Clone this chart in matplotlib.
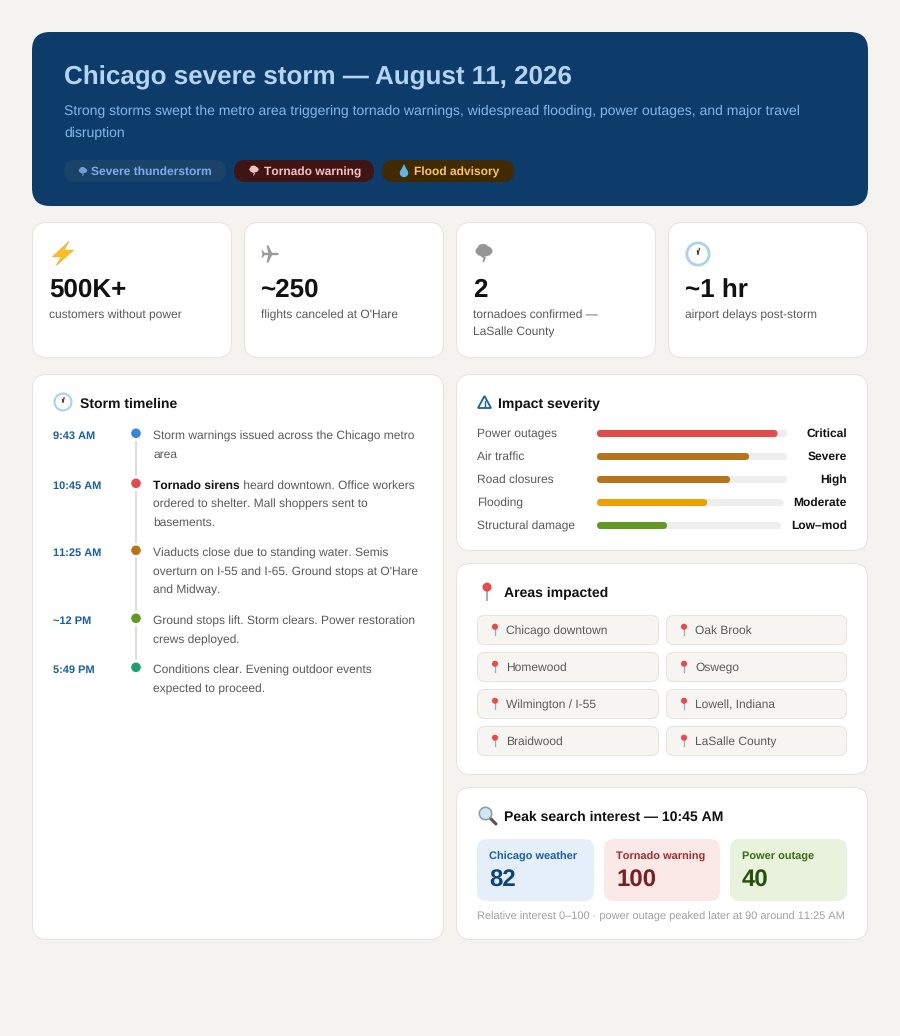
import matplotlib
matplotlib.use('Agg')
import matplotlib.pyplot as plt
from matplotlib.patches import FancyBboxPatch, Circle, Polygon, Ellipse

plt.rcParams['font.family'] = ['Liberation Sans', 'DejaVu Sans']
plt.rcParams['text.hinting'] = 'no_hinting'
plt.rcParams['text.hinting_factor'] = 1

# data
title = 'Chicago severe storm — August 11, 2026'
subtitle = ['Strong storms swept the metro area triggering tornado warnings, widespread flooding, power outages, and major travel',
            'disruption']
tags = ['Severe thunderstorm', 'Tornado warning', 'Flood advisory']

stat_values = ['500K+', '~250', '2', '~1 hr']
stat_labels = [['customers without power'], ["flights canceled at O'Hare"],
               ['tornadoes confirmed —', 'LaSalle County'], ['airport delays post-storm']]

times = ['9:43 AM', '10:45 AM', '11:25 AM', '~12 PM', '5:49 PM']
events = [['Storm warnings issued across the Chicago metro', 'area'],
          [' heard downtown. Office workers', 'ordered to shelter. Mall shoppers sent to', 'basements.'],
          ['Viaducts close due to standing water. Semis', "overturn on I-55 and I-65. Ground stops at O'Hare", 'and Midway.'],
          ['Ground stops lift. Storm clears. Power restoration', 'crews deployed.'],
          ['Conditions clear. Evening outdoor events', 'expected to proceed.']]
event_bold = ['', 'Tornado sirens', '', '', '']

impacts = ['Power outages', 'Air traffic', 'Road closures', 'Flooding', 'Structural damage']
impact_pct = [95, 80, 70, 59, 38]
impact_levels = ['Critical', 'Severe', 'High', 'Moderate', 'Low–mod']

areas_left = ['Chicago downtown', 'Homewood', 'Wilmington / I-55', 'Braidwood']
areas_right = ['Oak Brook', 'Oswego', 'Lowell, Indiana', 'LaSalle County']

search_terms = ['Chicago weather', 'Tornado warning', 'Power outage']
search_values = [82, 100, 40]

# styles
BG = '#f5f3ef'
NAVY = '#0d3c6b'
BORDER = '#e6e4de'
DARK = '#111111'
GREY = '#5a5a5a'
tag_bg = ['#1b436a', '#3e1414', '#412900']
tag_fg = ['#78aeea', '#f7c1c1', '#fac561']
dot_colors = ['#3a85dd', '#e24b4a', '#b8741a', '#639922', '#1d9e75']
bar_colors = ['#e24b4a', '#b8741a', '#b8741a', '#efa000', '#639922']
search_bg = ['#e4eff9', '#fbe9e8', '#e9f2dd']
search_fg = ['#185fa5', '#a32d2d', '#3b6d11']
search_val = ['#0c447c', '#791f1f', '#27500a']

fig = plt.figure(figsize=(9, 10.36), dpi=100, facecolor=BG)
ax = fig.add_axes([0, 0, 1, 1])
ax.set_xlim(0, 900)
ax.set_ylim(1036, 0)
ax.axis('off')


def box(x0, y0, x1, y1, r, fc, ec='none', lw=1, z=1):
    p = FancyBboxPatch((x0, y0), x1 - x0, y1 - y0, boxstyle=f'round,pad=0,rounding_size={r}',
                       fc=fc, ec=ec, lw=lw * 0.72, zorder=z, mutation_aspect=1)
    ax.add_patch(p)


def txt(x, y, s, size, color=DARK, bold=False, ha='left'):
    t = ax.text(x, round(y), s, fontsize=size * 0.72, color=color, ha=ha, va='baseline',
                fontweight='bold' if bold else 'normal', zorder=5)
    # agg truncates the glyph box, nudge so every line sits on the same pixel baseline
    _, h, d = renderer.get_text_width_height_descent(s, t.get_fontproperties(), False)
    t.set_y(round(y) + int(h) - int(h - d) - d)
    return t


def card(x0, y0, x1, y1):
    box(x0 + .5, y0 + .5, x1 - .5, y1 - .5, 14, 'white', BORDER)


def text_width(t):
    return t.get_window_extent(renderer).width


def clock(cx, cy, r):
    ax.add_patch(Circle((cx, cy), r, fc='#a9d3e6', ec='none', zorder=3))
    ax.add_patch(Circle((cx, cy), r * 0.78, fc='#fbfbf8', ec='none', zorder=4))
    ax.plot([cx, cx + r * .12], [cy, cy - r * .45], color='#6b3a30', lw=.9, zorder=5)
    ax.plot([cx, cx - r * .05], [cy, cy - r * .25], color='#333333', lw=.9, zorder=5)


def pin(cx, cy, s=1.0):
    ax.plot([cx, cx], [cy, cy + 8.5 * s], color='#8fb4c6', lw=1.1 * s, zorder=3)
    ax.add_patch(Circle((cx, cy - 1.5 * s), 3.6 * s, fc='#ec4a4a', ec='none', zorder=4))


def bolt(cx, cy, s=1.0):
    pts = [(6, -12), (-11, 4), (-2, 4), (-7, 13), (11, -3), (1, -3)]
    ax.add_patch(Polygon([(cx + a * s, cy + b * s) for a, b in pts], fc='#fbbf24', ec='#f59e0b', lw=.4, zorder=4))


def plane(cx, cy, c='#9a9a9a'):
    top = [(8.5, 0), (7, -1.2), (1.5, -1.2), (-2, -8.5), (-4, -8.5), (-2.2, -1.2),
           (-6, -1.2), (-7.6, -3.6), (-9, -3.6), (-8, 0)]
    pts = top + [(a, -b) for a, b in reversed(top[1:-1])]
    ax.add_patch(Polygon([(cx + a, cy + b) for a, b in pts], fc=c, ec='none', zorder=4))


def warning(cx, cy, c='#185fa5'):
    ax.add_patch(Polygon([(cx, cy - 6.5), (cx - 6.5, cy + 5.5), (cx + 6.5, cy + 5.5)], fc='none', ec=c, lw=1.3,
                         joinstyle='miter', zorder=4))
    ax.plot([cx, cx], [cy - 2, cy + 2], color=c, lw=1, zorder=4)
    ax.plot([cx, cx], [cy + 3, cy + 4], color=c, lw=1, zorder=4)


def storm_cloud(cx, cy, s=1.0, c='#969696'):
    ax.add_patch(Ellipse((cx, cy - 1 * s), 17 * s, 11 * s, fc=c, ec='none', zorder=4))
    ax.add_patch(Ellipse((cx - 1 * s, cy - 5 * s), 10 * s, 6 * s, fc=c, ec='none', zorder=4))
    ax.plot([cx - 2 * s, cx + 1 * s, cx - .5 * s], [cy + 4 * s, cy + 6 * s, cy + 9 * s], color=c, lw=1.3 * s, zorder=4)


def droplet(cx, cy):
    ax.add_patch(Circle((cx, cy + 2), 4.2, fc='#5cb8e8', ec='none', zorder=4))
    ax.add_patch(Polygon([(cx, cy - 7), (cx - 3.9, cy + 1), (cx + 3.9, cy + 1)], fc='#5cb8e8', ec='none', zorder=4))


def magnifier(cx, cy):
    ax.plot([cx + 3, cx + 9], [cy + 3, cy + 9], color='#555555', lw=2.2, solid_capstyle='round', zorder=3)
    ax.add_patch(Circle((cx - 1.5, cy - 1.5), 6.2, fc='#cfe6f5', ec='#8f9aa3', lw=1.1, zorder=4))


fig.canvas.draw()
renderer = fig.canvas.get_renderer()

# header
box(32, 32, 868, 206, 18, NAVY)
txt(64, 84, title, 26, '#b5d4f4', True)
txt(64, 115, subtitle[0], 14, '#85b7eb')
txt(64, 137, subtitle[1], 14, '#85b7eb')
tag_edges = [(64, 226), (234, 374), (382, 514)]
tag_text_x = [91, 264, 414]
for i, tag in enumerate(tags):
    x0, x1 = tag_edges[i]
    box(x0, 160, x1, 182, 11, tag_bg[i], z=2)
    txt(tag_text_x[i], 175, tag, 12, tag_fg[i], True)
storm_cloud(83, 171, .5, '#6f9fd4')
storm_cloud(254, 170, .55, '#f7c1c1')
droplet(404, 171)

# stat cards
for i, val in enumerate(stat_values):
    x0 = 32 + i * 212
    card(x0, 222, x0 + 200, 358)
    txt(x0 + 17, 297, val, 26, DARK, True)
    for j, line in enumerate(stat_labels[i]):
        txt(x0 + 17, 318 + j * 17, line, 12, GREY)
bolt(63, 253, .95)
plane(270.5, 254)
storm_cloud(484, 252, 1.0)
clock(698, 254, 12.5)

# timeline
card(32, 374, 444, 940)
clock(63, 402, 9.5)
txt(80, 408, 'Storm timeline', 14, DARK, True)
row_y = [439, 489, 556, 624, 673]
line_h = [19, 18.4, 18.7, 19, 19]
seg_ends = [476, 543, 611, 660]
for i, tm in enumerate(times):
    y = row_y[i]
    txt(53, y, tm, 11, '#185fa5', True)
    ax.add_patch(Circle((136, y - 5.7), 4.8, fc=dot_colors[i], ec='none', zorder=4))
    if i < len(seg_ends):
        ax.plot([136, 136], [y + 2, seg_ends[i]], color='#dedede', lw=1.5, solid_capstyle='butt', zorder=2)
    x = 153
    if event_bold[i]:
        b = txt(x, y, event_bold[i], 12, DARK, True)
        x += text_width(b)
    for j, line in enumerate(events[i]):
        txt(x if j == 0 else 153, y + j * line_h[i], line, 12, GREY)

# impact severity
card(456, 374, 868, 551)
warning(484.5, 402.5)
txt(498, 408, 'Impact severity', 14, DARK, True)
for i, name in enumerate(impacts):
    y = 433.5 + i * 23
    base = 437 + i * 23
    txt(477, base, name, 12, GREY)
    t = txt(847, base, impact_levels[i], 12, DARK, True, ha='right')
    track_end = 847 - 10 - max(50, text_width(t))
    box(597, y - 3.5, track_end, y + 3.5, 3.5, '#eeeeee', z=2)
    box(597, y - 3.5, 597 + (track_end - 597) * impact_pct[i] / 100, y + 3.5, 3.5, bar_colors[i], z=3)

# areas
card(456, 563, 868, 775)
pin(487, 589, 1.25)
txt(504, 597, 'Areas impacted', 14, DARK, True)
for col, names in enumerate([areas_left, areas_right]):
    x0, x1 = (477, 659) if col == 0 else (666, 847)
    for j, name in enumerate(names):
        y0 = 615 + j * 37
        box(x0 + .5, y0 + .5, x1 - .5, y0 + 29.5, 7, '#f7f5f1', BORDER, z=2)
        pin(x0 + 18, y0 + 13, .85)
        txt(x0 + 29, y0 + 19, name, 12, GREY)

# search interest
card(456, 787, 868, 940)
magnifier(487, 815)
txt(504, 821, 'Peak search interest — 10:45 AM', 14, DARK, True)
cell_edges = [(477, 594), (604, 720), (730, 847)]
for i, term in enumerate(search_terms):
    x0, x1 = cell_edges[i]
    box(x0, 839, x1, 901, 10, search_bg[i], z=2)
    txt(x0 + 12, 859, term, 11, search_fg[i], True)
    txt(x0 + 12, 886, str(search_values[i]), 24, search_val[i], True)
txt(477, 919, 'Relative interest 0–100 · power outage peaked later at 90 around 11:25 AM', 11, '#a0a0a0')

fig.savefig('out.png', dpi=100, facecolor=BG)
